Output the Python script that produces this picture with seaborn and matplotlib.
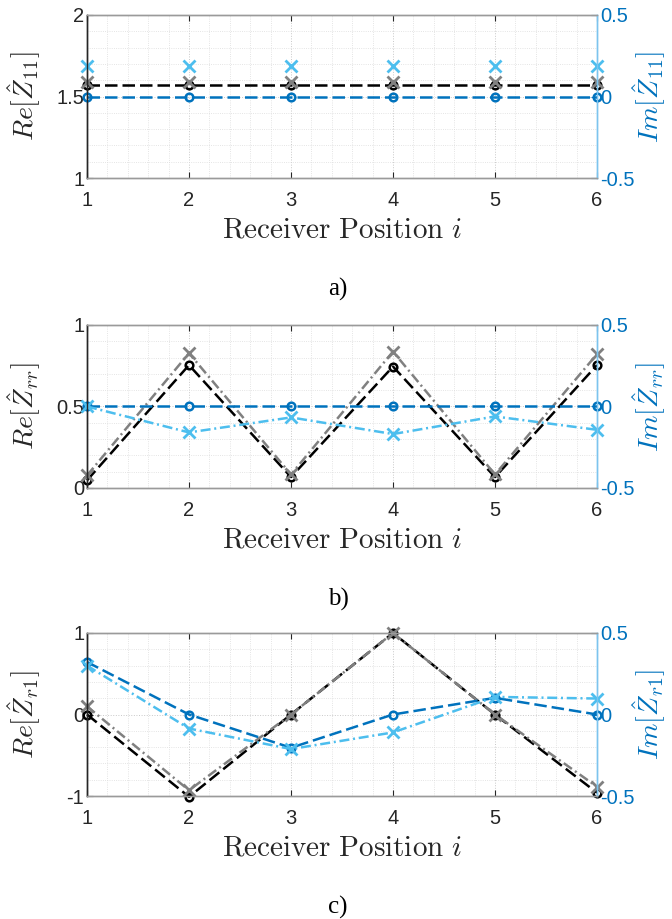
import matplotlib
matplotlib.use('Agg')
import matplotlib.pyplot as plt
import seaborn as sns
from matplotlib.ticker import MultipleLocator

# --- Data --- #
positions = [1, 2, 3, 4, 5, 6]

# panel a) Z11
re11_black = [1.57, 1.57, 1.57, 1.57, 1.57, 1.57]
re11_gray = [1.59, 1.59, 1.59, 1.59, 1.59, 1.59]
im11_dark = [0.0, 0.0, 0.0, 0.0, 0.0, 0.0]
im11_light = [0.185, 0.185, 0.185, 0.185, 0.185, 0.185]

# panel b) Zrr
rerr_black = [0.047, 0.754, 0.067, 0.745, 0.067, 0.754]
rerr_gray = [0.077, 0.827, 0.083, 0.837, 0.083, 0.821]
imrr_dark = [0.0, 0.0, 0.0, 0.0, 0.0, 0.0]
imrr_light = [0.0, -0.159, -0.067, -0.169, -0.061, -0.143]

# panel c) Zr1
rer1_black = [0.0, -1.01, 0.0, 1.0, 0.0, -0.96]
rer1_gray = [0.10, -0.93, 0.0, 1.0, 0.0, -0.886]
imr1_dark = [0.322, 0.0, -0.204, 0.0, 0.102, 0.0]
imr1_light = [0.30, -0.086, -0.212, -0.110, 0.108, 0.098]

panels = [
    dict(re_black=re11_black, re_gray=re11_gray, im_dark=im11_dark, im_light=im11_light,
         ylim=(1, 2), yticks=[1, 1.5, 2], yticklabels=['1', '1.5', '2'], minor=0.1,
         sub='11', tag='a)', x_lines=False),
    dict(re_black=rerr_black, re_gray=rerr_gray, im_dark=imrr_dark, im_light=imrr_light,
         ylim=(0, 1), yticks=[0, 0.5, 1], yticklabels=['0', '0.5', '1'], minor=0.1,
         sub='rr', tag='b)', x_lines=True),
    dict(re_black=rer1_black, re_gray=rer1_gray, im_dark=imr1_dark, im_light=imr1_light,
         ylim=(-1, 1), yticks=[-1, 0, 1], yticklabels=['-1', '0', '1'], minor=0.2,
         sub='r1', tag='c)', x_lines=True),
]

# --- Style --- #
sns.set_style('white')
plt.rcParams['font.family'] = ['Liberation Sans', 'DejaVu Sans']
plt.rcParams['mathtext.fontset'] = 'cm'
plt.rcParams['axes.unicode_minus'] = False

DARK_BLUE = '#0072BD'
LIGHT_BLUE = '#4DBEEE'
GRAY = '#808080'
SPINE_GRAY = '#9a9a9a'
DASH = (0, (5, 2))
DASHDOT = (0, (4, 1.5, 0.8, 1.5))

W, H = 672, 919
fig = plt.figure(figsize=(W / 100, H / 100), dpi=100)

ax_left, ax_right = 87, 597
tops = [15, 325, 633]
ax_h = 163

for p, top in zip(panels, tops):
    ax = fig.add_axes([ax_left / W, 1 - (top + ax_h) / H, (ax_right - ax_left) / W, ax_h / H])
    ax2 = ax.twinx()
    x_style = DASHDOT if p['x_lines'] else 'none'

    sns.lineplot(x=positions, y=p['re_black'], ax=ax, color='black', linestyle=DASH,
                 lw=1.8, marker='o', markersize=5.5, markerfacecolor='none',
                 markeredgecolor='black', markeredgewidth=1.8, clip_on=False)
    sns.lineplot(x=positions, y=p['re_gray'], ax=ax, color=GRAY, linestyle=x_style,
                 lw=1.8, marker='x', markersize=8.5, markeredgecolor=GRAY,
                 markeredgewidth=2, clip_on=False)
    sns.lineplot(x=positions, y=p['im_dark'], ax=ax2, color=DARK_BLUE, linestyle=DASH,
                 lw=1.8, marker='o', markersize=5.5, markerfacecolor='none',
                 markeredgecolor=DARK_BLUE, markeredgewidth=1.8, clip_on=False)
    sns.lineplot(x=positions, y=p['im_light'], ax=ax2, color=LIGHT_BLUE, linestyle=x_style,
                 lw=1.8, marker='x', markersize=8.5, markeredgecolor=LIGHT_BLUE,
                 markeredgewidth=2, clip_on=False)

    ax.set_xlim(1, 6)
    ax.set_ylim(*p['ylim'])
    ax2.set_ylim(-0.5, 0.5)
    ax.set_xticks(positions)
    ax.set_xticklabels([str(v) for v in positions])
    ax.set_yticks(p['yticks'])
    ax.set_yticklabels(p['yticklabels'])
    ax2.set_yticks([-0.5, 0, 0.5])
    ax2.set_yticklabels(['-0.5', '0', '0.5'])
    ax.xaxis.set_minor_locator(MultipleLocator(0.2))
    ax.yaxis.set_minor_locator(MultipleLocator(p['minor']))

    ax.grid(True, which='major', linestyle=':', color='#c8c8c8', lw=0.7)
    ax.grid(True, which='minor', linestyle=':', color='#dcdcdc', lw=0.6)
    ax.set_axisbelow(True)

    ax.tick_params(axis='x', which='major', direction='in', length=4, top=True, bottom=True,
                   labelsize=14.5, colors='#262626', pad=9)
    ax.tick_params(axis='y', which='major', direction='in', length=4, left=True, right=False,
                   labelsize=14.5, colors='#262626', pad=2)
    ax.tick_params(which='minor', length=0)
    ax2.tick_params(axis='y', which='major', direction='in', length=4, right=True,
                    labelsize=14.5, colors=DARK_BLUE, pad=2)
    for a in (ax, ax2):
        a.spines['top'].set_color(SPINE_GRAY)
        a.spines['bottom'].set_color(SPINE_GRAY)
        a.spines['left'].set_color('#262626')
        a.spines['right'].set_color('#7cc4ee')
        for s in a.spines.values():
            s.set_linewidth(1.0)

    ax.set_xlabel(r'$\mathrm{Receiver\ Position}\ i$', fontsize=21, color='#262626', labelpad=4)
    ax.set_ylabel(r'$Re[\hat{Z}_{' + p['sub'] + r'}]$', fontsize=20, color='#262626')
    ax.yaxis.set_label_coords(-0.086, 0.5)
    ax2.set_ylabel(r'$Im[\hat{Z}_{' + p['sub'] + r'}]$', fontsize=20, color=DARK_BLUE)
    ax2.yaxis.set_label_coords(1.066, 0.5)

    fig.text(338 / W, 1 - (top + ax_h + 111) / H, p['tag'], ha='center', va='center',
             family='Liberation Serif', fontsize=18, color='black')

fig.savefig('out.png', dpi=100)
